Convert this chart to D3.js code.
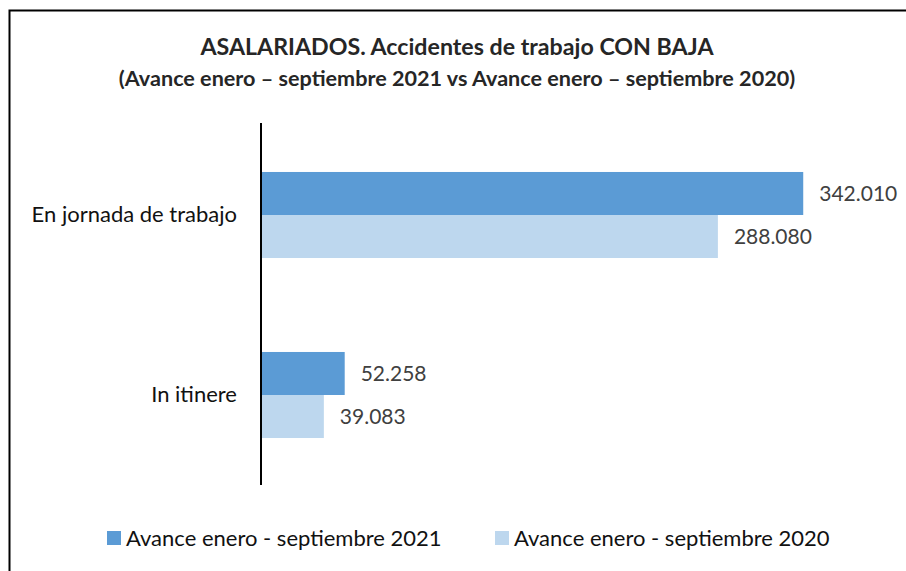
<!DOCTYPE html>
<html>
<head>
<meta charset="utf-8">
<script src="https://cdn.jsdelivr.net/npm/d3@7"></script>
<style>
  body { margin: 0; background: #fff; }
  text { font-family: Lato, "Open Sans", sans-serif; }
</style>
</head>
<body>
<div id="canvas"></div>
<script>
"use strict"

// data
let categories = ["En jornada de trabajo", "In itinere"];
let seriesNames = ["Avance enero - septiembre 2021", "Avance enero - septiembre 2020"];
let values2021 = [342010, 52258];
let values2020 = [288080, 39083];
let colors = ["#5b9bd5", "#bdd7ee"];

let W = 906, H = 571;

let drawing = d3.select("#canvas")
    .append("svg")
    .attr("width", W)
    .attr("height", H);

/* frame - only left and top edges are inside the picture */
drawing.append("rect")
    .attr("x", 9.5)
    .attr("y", 10.5)
    .attr("width", W + 20)
    .attr("height", H + 20)
    .attr("fill", "white")
    .attr("stroke", "black")
    .attr("stroke-width", 2);

/* titles */
drawing.append("text")
    .attr("x", 457)
    .attr("y", 55)
    .attr("text-anchor", "middle")
    .attr("font-size", 23.2)
    .attr("font-weight", "bold")
    .attr("fill", "#262626")
    .text("ASALARIADOS. Accidentes de trabajo CON BAJA");

drawing.append("text")
    .attr("x", 457)
    .attr("y", 86)
    .attr("text-anchor", "middle")
    .attr("font-size", 21.6)
    .attr("font-weight", "bold")
    .attr("fill", "#262626")
    .text("(Avance enero \u2013 septiembre 2021 vs Avance enero \u2013 septiembre 2020)");

/* scales */
let x = d3.scaleLinear()
    .domain([0, 400000])
    .range([262, 895]);

let y = d3.scaleBand()
    .domain(categories)
    .range([125, 485])
    .paddingInner(0.522)
    .paddingOuter(0.261);

let sub = d3.scaleBand()
    .domain([0, 1])
    .range([0, y.bandwidth()]);

let rows = categories.map((c, i) => ({ cat: c, vals: [values2021[i], values2020[i]] }));

let fmt = d3.formatLocale({ decimal: ",", thousands: ".", grouping: [3], currency: ["", "€"] }).format(",d");

let groups = drawing.selectAll(".grp")
    .data(rows)
    .enter()
    .append("g")
    .attr("transform", d => "translate(0," + y(d.cat) + ")");

groups.selectAll("rect")
    .data(d => d.vals)
    .enter()
    .append("rect")
    .attr("x", x(0))
    .attr("y", (d, j) => sub(j))
    .attr("width", d => x(d) - x(0))
    .attr("height", sub.bandwidth())
    .attr("fill", (d, j) => colors[j]);

groups.selectAll(".lbl")
    .data(d => d.vals)
    .enter()
    .append("text")
    .attr("x", d => x(d) + 16)
    .attr("y", (d, j) => sub(j) + sub.bandwidth() / 2)
    .attr("dy", "0.35em")
    .attr("font-size", 21)
    .attr("fill", "#404040")
    .text(d => fmt(d));

/* category axis */
let yAxis = drawing.append("g")
    .attr("transform", "translate(261,0)")
    .call(d3.axisLeft(y).tickSize(0).tickPadding(24));

yAxis.select(".domain")
    .attr("d", "M0,123V485")
    .attr("stroke", "black")
    .attr("stroke-width", 2);

yAxis.selectAll("text")
    .attr("font-size", 22)
    .attr("fill", "#111")
    .style("font-family", "Lato, 'Open Sans', sans-serif");

/* legend */
let legendX = [107, 495];
let legend = drawing.selectAll(".leg")
    .data(seriesNames)
    .enter()
    .append("g")
    .attr("transform", (d, i) => "translate(" + legendX[i] + ",531)");

legend.append("rect")
    .attr("width", 14)
    .attr("height", 14)
    .attr("fill", (d, i) => colors[i]);

legend.append("text")
    .attr("x", 19)
    .attr("y", 7)
    .attr("dy", "0.35em")
    .attr("font-size", 22)
    .attr("fill", "#111")
    .text(d => d);
</script>
</body>
</html>
